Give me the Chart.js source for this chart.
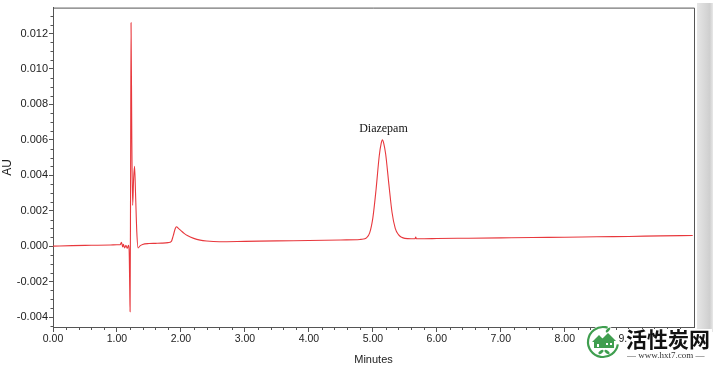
<!DOCTYPE html>
<html><head><meta charset="utf-8">
<script src="https://cdn.jsdelivr.net/npm/chart.js@4/dist/chart.umd.min.js"></script>
<style>html,body{margin:0;padding:0;background:#fff}#wrap{width:713px;height:367px;position:relative}</style>
</head><body><div id="wrap"><canvas id="c" width="713" height="367"></canvas></div>
<script>
const times = [0, 0.3, 0.6, 0.9, 1.0, 1.05, 1.07, 1.09, 1.10, 1.12, 1.14, 1.16, 1.18, 1.19, 1.20, 1.205, 1.213, 1.22, 1.232, 1.245, 1.26, 1.275, 1.29, 1.31, 1.33, 1.36, 1.40, 1.5, 1.6, 1.7, 1.8, 1.85, 1.88, 1.91, 1.93, 1.96, 2.0, 2.05, 2.1, 2.2, 2.3, 2.4, 2.6, 3.0, 3.5, 4.0, 4.5, 4.8, 4.85, 4.9, 4.95, 5.0, 5.05, 5.1, 5.13, 5.15, 5.17, 5.2, 5.25, 5.3, 5.35, 5.4, 5.45, 5.5, 5.6, 5.66, 5.67, 5.68, 5.8, 6.0, 6.5, 7.0, 7.5, 8.0, 8.5, 9.0, 9.5, 10.0];
const au = [0.0000, 0.00003, 0.00005, 0.00007, 0.00008, 0.00008, 0.00022, -0.00005, 0.0001, -0.0001, 0.00005, -0.00012, 0.00005, -0.0002, -0.0025, -0.0037, 0.004, 0.0126, 0.006, 0.0023, 0.0038, 0.0045, 0.0030, 0.0008, -0.0001, 0.00002, 0.0001, 0.00015, 0.00016, 0.00017, 0.0002, 0.00027, 0.0006, 0.00098, 0.0011, 0.001, 0.00088, 0.00072, 0.0006, 0.00044, 0.00034, 0.00029, 0.00025, 0.00027, 0.0003, 0.00032, 0.00035, 0.00038, 0.0004, 0.00047, 0.00075, 0.0016, 0.0032, 0.0051, 0.0058, 0.0060, 0.0058, 0.0052, 0.0035, 0.0019, 0.001, 0.00065, 0.0005, 0.00044, 0.00042, 0.00042, 0.00052, 0.00042, 0.00042, 0.00043, 0.00045, 0.00047, 0.00049, 0.0005, 0.00053, 0.00055, 0.00058, 0.0006];
const xTicks = [0, 1, 2, 3, 4, 5, 6, 7, 8, 9];
const yTicks = [-0.004, -0.002, 0, 0.002, 0.004, 0.006, 0.008, 0.010, 0.012];
const peakLabel = {name: 'Diazepam', t: 5.15, v: 0.0060};

const points = times.map((t, i) => ({x: t, y: au[i]}));
const AX = '#555';

const extras = {
  id: 'extras',
  afterDraw(chart) {
    const ctx = chart.ctx, a = chart.chartArea, xs = chart.scales.x, ys = chart.scales.y;
    ctx.save();
    ctx.strokeStyle = AX; ctx.lineWidth = 1;
    ctx.beginPath();
    ctx.moveTo(a.left, a.top + 0.5); ctx.lineTo(a.right + 0.5, a.top + 0.5); ctx.lineTo(a.right + 0.5, a.bottom);
    ctx.stroke();
    ctx.beginPath();
    for (let k = -9; k <= 26; k++) {
      if (k % 4 === 0) continue;
      const v = k * 0.0005;
      if (v < ys.min || v > ys.max) continue;
      const p = Math.round(ys.getPixelForValue(v)) + 0.5;
      ctx.moveTo(a.left - 2.5, p); ctx.lineTo(a.left, p);
    }
    for (let k = 1; k < 50; k++) {
      if (k % 5 === 0) continue;
      const v = k * 0.2;
      const p = Math.round(xs.getPixelForValue(v)) + 0.5;
      ctx.moveTo(p, a.bottom); ctx.lineTo(p, a.bottom + 3);
    }
    ctx.stroke();
    const g = ctx.createLinearGradient(697, 0, 713, 0);
    g.addColorStop(0, '#e6e6e6'); g.addColorStop(0.8, '#cfcfcf'); g.addColorStop(1, '#e8e8e8');
    ctx.fillStyle = g; ctx.fillRect(697, 3, 16, 329);
    ctx.fillStyle = '#111';
    ctx.font = '12px "Liberation Serif", serif';
    ctx.textAlign = 'center'; ctx.textBaseline = 'bottom';
    ctx.fillText(peakLabel.name, xs.getPixelForValue(peakLabel.t) + 1, ys.getPixelForValue(peakLabel.v) - 5);
    // watermark
    const cx = 603, cy = 342;
    ctx.fillStyle = '#fff';
    ctx.fillRect(627, 329, 85, 36);
    ctx.beginPath(); ctx.arc(cx, cy, 16.5, 0, Math.PI * 2); ctx.fill();
    ctx.strokeStyle = '#3f9e4f'; ctx.lineWidth = 2.2;
    ctx.beginPath(); ctx.arc(cx, cy, 15, Math.PI * 0.05, Math.PI * 1.6); ctx.stroke();
    ctx.fillStyle = '#3f9e4f';
    ctx.beginPath();
    ctx.moveTo(cx - 11, cy); ctx.lineTo(cx - 4, cy - 7); ctx.lineTo(cx + 3, cy); ctx.closePath();
    ctx.moveTo(cx - 3, cy - 1); ctx.lineTo(cx + 5, cy - 9); ctx.lineTo(cx + 13, cy - 1); ctx.closePath();
    ctx.fill();
    ctx.fillRect(cx - 9, cy, 10, 6); ctx.fillRect(cx - 1, cy - 1, 12, 7);
    ctx.fillStyle = '#fff';
    ctx.fillRect(cx - 6, cy + 2, 2, 3); ctx.fillRect(cx + 3, cy + 1, 2, 2); ctx.fillRect(cx + 7, cy + 1, 2, 2);
    ctx.fillStyle = '#3f9e4f';
    ctx.beginPath(); ctx.ellipse(cx - 2, cy + 10, 3, 1.5, -0.6, 0, Math.PI * 2); ctx.ellipse(cx + 4, cy + 10, 3, 1.5, 0.6, 0, Math.PI * 2); ctx.fill();
    ctx.beginPath(); ctx.ellipse(cx + 5, cy - 12, 3, 1.3, -0.8, 0, Math.PI * 2); ctx.fill();
    ctx.fillStyle = '#111';
    ctx.font = 'bold 21px "Noto Sans CJK SC", sans-serif';
    ctx.textAlign = 'left'; ctx.textBaseline = 'middle';
    ctx.fillText('活性炭网', 626, 339);
    ctx.font = '9px "Liberation Serif", serif';
    ctx.fillStyle = '#333';
    ctx.fillText('— www.hxt7.com —', 627, 356);
    ctx.restore();
  }
};

new Chart(document.getElementById('c'), {
  type: 'scatter',
  data: {datasets: [{
    data: points, showLine: true, borderColor: '#e8383d', borderWidth: 1.1,
    pointRadius: 0, cubicInterpolationMode: 'monotone', fill: false
  }]},
  options: {
    responsive: false, animation: false, devicePixelRatio: 1,
    layout: {padding: {top: 7, right: 19, left: 0, bottom: 0}},
    plugins: {legend: {display: false}, tooltip: {enabled: false}},
    scales: {
      x: {
        type: 'linear', min: 0, max: 10.02,
        afterBuildTicks: s => { s.ticks = xTicks.map(v => ({value: v})); },
        afterFit: s => { s.height = 40; },
        ticks: {callback: v => v.toFixed(2), color: '#222', font: {family: 'Liberation Sans', size: 10.5}, maxRotation: 0, autoSkip: false, padding: 1},
        grid: {drawOnChartArea: false, drawTicks: true, tickLength: 5, color: AX},
        border: {display: true, color: AX, width: 1},
        title: {display: true, text: 'Minutes', color: '#222', font: {family: 'Liberation Sans', size: 11}, padding: {top: 0, bottom: 0}}
      },
      y: {
        type: 'linear', min: -0.00456, max: 0.01346,
        afterBuildTicks: s => { s.ticks = yTicks.map(v => ({value: v})); },
        afterFit: s => { s.width = 53; },
        ticks: {callback: v => v.toFixed(3), color: '#222', font: {family: 'Liberation Sans', size: 11}, padding: 1},
        grid: {drawOnChartArea: false, drawTicks: true, tickLength: 4, color: AX},
        border: {display: true, color: AX, width: 1},
        title: {display: true, text: 'AU', color: '#222', font: {family: 'Liberation Sans', size: 12}, padding: {top: 0, bottom: 0}}
      }
    }
  },
  plugins: [extras]
});
</script></body></html>
